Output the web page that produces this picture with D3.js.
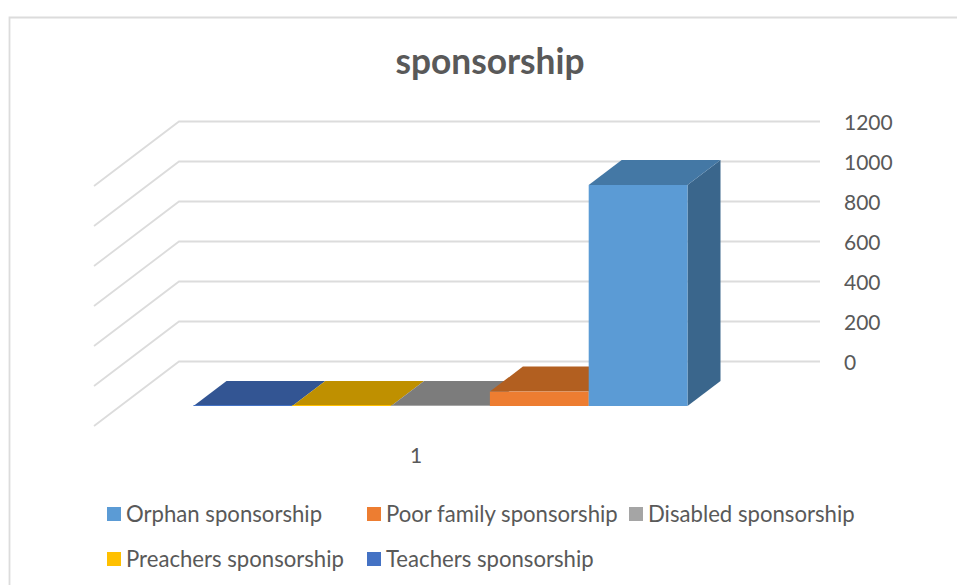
<!DOCTYPE html>
<html><head><meta charset="utf-8">
<script src="https://cdnjs.cloudflare.com/ajax/libs/d3/7.8.5/d3.min.js"></script>
<style>html,body{margin:0;padding:0;background:#fff;overflow:hidden}text{font-family:Lato,"Open Sans",sans-serif;fill:#595959}</style>
</head><body><svg id="c" width="957" height="585"></svg>
<script>
const titleText = "sponsorship";
const categories = ["1"];
const seriesDraw = ["Teachers sponsorship","Preachers sponsorship","Disabled sponsorship","Poor family sponsorship","Orphan sponsorship"];
const values = [0,0,0,72,1105];
const frontColors = ["#4472C4","#FFC000","#A5A5A5","#ED7D31","#5B9BD5"];
const topColors = ["#335593","#BF9000","#7C7C7C","#B25F20","#4478A5"];
const sideColors = ["#2A4880","#A67C00","#6B6B6B","#9A521C","#3A668C"];
const tickValues = [0,200,400,600,800,1000,1200];
const legendOrder = [
  {name:"Orphan sponsorship",color:"#5B9BD5",col:0,row:0},
  {name:"Poor family sponsorship",color:"#ED7D31",col:1,row:0},
  {name:"Disabled sponsorship",color:"#A5A5A5",col:2,row:0},
  {name:"Preachers sponsorship",color:"#FFC000",col:0,row:1},
  {name:"Teachers sponsorship",color:"#4472C4",col:1,row:1}];

const svg = d3.select("#c");
const y = d3.scaleLinear().domain([0,1200]).range([361.5,121.5]);
const x = d3.scaleBand().domain(seriesDraw).range([193.5,687.5]).padding(0);
const wallL=179, wallR=820, floorDX=-85, floorDY=64.5;
const barDX=33, barDY=-25, frontDrop=44.5;

// chart frame
svg.append("path").attr("d","M9.5,585V17.5H957").attr("fill","none").attr("stroke","#DCDCDC").attr("stroke-width",1.8);

// gridlines
const line = d3.line();
svg.append("g").selectAll("path").data(tickValues).join("path")
  .attr("d",d=>line([[wallL+floorDX,y(d)+floorDY],[wallL,y(d)],[wallR,y(d)]]))
  .attr("fill","none").attr("stroke","#DCDCDC").attr("stroke-width",1.8);

// bars
const bars = svg.append("g").selectAll("g").data(seriesDraw).join("g");
bars.each(function(name,i){
  const g=d3.select(this), x0=x(name), x1=x0+x.bandwidth();
  const yb=y(0)+frontDrop, yt=y(values[i])+frontDrop;
  g.append("path").attr("fill",sideColors[i]).attr("d",line([[x1,yt],[x1+barDX,yt+barDY],[x1+barDX,yb+barDY],[x1,yb]])+"Z").attr("opacity",values[i]>0?1:0);
  g.append("path").attr("fill",topColors[i]).attr("d",line([[x0,yt],[x0+barDX,yt+barDY],[x1+barDX,yt+barDY],[x1,yt]])+"Z");
  g.append("rect").attr("x",x0).attr("width",x.bandwidth()).attr("y",Math.min(yt,yb-1)).attr("height",Math.max(yb-yt,1)).attr("fill",frontColors[i]);
});

// value axis labels
svg.append("g").selectAll("text").data(tickValues).join("text")
  .attr("x",844).attr("y",d=>y(d)+8.5).attr("font-size",21).text(d=>d);

// category label
svg.append("text").attr("x",416).attr("y",463).attr("text-anchor","middle").attr("font-size",21).text(categories[0]);

// title
svg.append("text").attr("x",490).attr("y",73.5).attr("text-anchor","middle").attr("font-size",35.3).attr("font-weight",700).text(titleText);

// legend
const colX=[107,367,629], rowY=[507,552];
const lg=svg.append("g").selectAll("g").data(legendOrder).join("g")
  .attr("transform",d=>`translate(${colX[d.col]},${rowY[d.row]})`);
lg.append("rect").attr("width",14).attr("height",14).attr("fill",d=>d.color);
lg.append("text").attr("x",19).attr("y",14.5).attr("font-size",22.15).text(d=>d.name);
</script></body></html>
